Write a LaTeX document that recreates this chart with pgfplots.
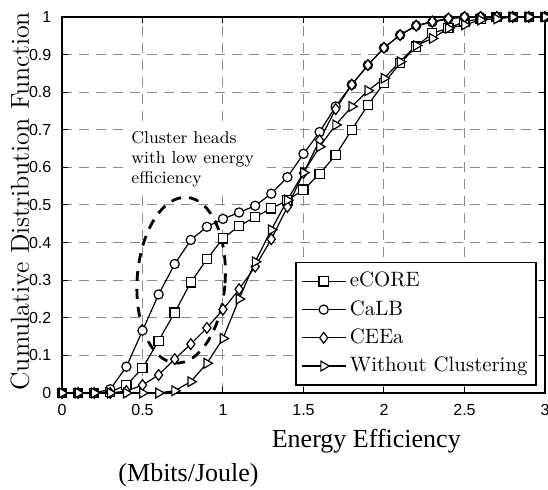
\documentclass[border=0pt]{standalone}
\usepackage{fontspec}
\usepackage{pgfplots}
\pgfplotsset{compat=1.18}
\newfontfamily\ticksf{Liberation Sans}
\newfontfamily\lserif{Liberation Serif}

\pgfplotstableread{
x     ecore  calb   ceea   woc
0.0   0      0      0      0
0.1   0      0      0      0
0.2   0      0      0      0
0.3   0.003  0.010  0      0
0.4   0.021  0.070  0.005  0
0.5   0.066  0.166  0.021  0
0.6   0.139  0.262  0.048  0
0.7   0.214  0.343  0.090  0.006
0.8   0.294  0.407  0.130  0.030
0.9   0.356  0.442  0.173  0.079
1.0   0.411  0.463  0.222  0.145
1.1   0.444  0.480  0.276  0.250
1.2   0.468  0.498  0.336  0.349
1.3   0.491  0.530  0.409  0.434
1.4   0.512  0.574  0.495  0.513
1.5   0.541  0.636  0.585  0.586
1.6   0.583  0.694  0.672  0.655
1.7   0.633  0.762  0.755  0.713
1.8   0.700  0.820  0.820  0.762
1.9   0.766  0.872  0.872  0.804
2.0   0.824  0.918  0.918  0.837
2.1   0.877  0.952  0.952  0.881
2.2   0.921  0.977  0.977  0.924
2.3   0.957  0.986  0.988  0.943
2.4   0.970  0.995  0.996  0.970
2.5   0.988  1      1      0.979
2.6   0.995  1      1      0.992
2.7   1      1      1      0.995
2.8   1      1      1      1
2.9   1      1      1      1
3.0   1      1      1      1
}\cdfdata

\begin{document}
\begin{tikzpicture}
\begin{axis}[
  scale only axis, width=241.5pt, height=188pt,
  xmin=0, xmax=3, ymin=0, ymax=1,
  xtick={0,0.5,...,3}, ytick={0,0.1,...,1},
  xticklabels={0,0.5,1,1.5,2,2.5,3},
  yticklabels={0,0.1,0.2,0.3,0.4,0.5,0.6,0.7,0.8,0.9,1},
  tick align=inside, major tick length=3pt,
  axis line style={line width=0.7pt}, every tick/.style={black, line width=0.5pt},
  grid=major, grid style={black!45, line width=0.5pt, dash pattern=on 5pt off 3.5pt},
  ticklabel style={font=\ticksf\fontsize{8}{9}\selectfont},
  /pgf/number format/assume math mode=true,
  xticklabel style={yshift=-2.3pt},
  yticklabel style={xshift=-1.8pt},
  clip=false,
  legend cell align=left,
  legend style={at={(rel axis cs:0.983,0.019)}, anchor=south east,
    draw=black, line width=0.7pt, inner sep=2.5pt,
    font=\fontsize{10.4}{12}\selectfont,
    nodes={inner sep=1.8pt, text height=8pt, text depth=2.5pt}},
  legend image code/.code={\draw[mark repeat=2,mark phase=2,#1] plot coordinates {(0pt,0pt) (11pt,0pt) (22pt,0pt)};},
  every axis plot/.append style={black, line width=0.6pt, mark size=2.3pt},
]
\node[anchor=north west, fill=white, align=left, inner xsep=4pt, inner ysep=3pt,
  font=\fontsize{8.6}{10}\selectfont, text width=64pt]
  at (axis cs:0.379,0.713) {Cluster heads\\with low energy\\efficiency};
\addplot[mark=square*, mark options={solid, fill=white}] table[x=x,y=ecore] {\cdfdata};
\addlegendentry{eCORE}
\addplot[mark=*, mark options={solid, fill=white}] table[x=x,y=calb] {\cdfdata};
\addlegendentry{CaLB}
\addplot[mark=diamond*, mark size=2.7pt, mark options={solid, fill=white}] table[x=x,y=ceea] {\cdfdata};
\addlegendentry{CEEa}
\addplot[mark=triangle*, mark size=2.8pt, mark options={solid, fill=white, rotate=-90}] table[x=x,y=woc] {\cdfdata};
\addlegendentry{Without Clustering}
\draw[black, line width=1.4pt, dash pattern=on 5pt off 4pt, rotate around={-4:(axis cs:0.74,0.30)}]
  (axis cs:0.74,0.30) ellipse [x radius=22pt, y radius=41.5pt];
\node[rotate=90, anchor=center, yshift=21pt, font=\fontsize{13}{15}\selectfont]
  at (rel axis cs:0,0.51) {Cumulative Distribution Function};
\node[anchor=base, yshift=-27.5pt, font=\lserif\fontsize{13}{15}\selectfont]
  at (rel axis cs:0.63,0) {Energy Efficiency};
\node[anchor=base, yshift=-44.5pt, font=\lserif\fontsize{13}{15}\selectfont]
  at (rel axis cs:0.262,0) {(Mbits/Joule)};
\end{axis}
\pgfresetboundingbox
\useasboundingbox (-31pt,-48.5pt) rectangle (243pt,196.5pt);
\end{tikzpicture}
\end{document}
